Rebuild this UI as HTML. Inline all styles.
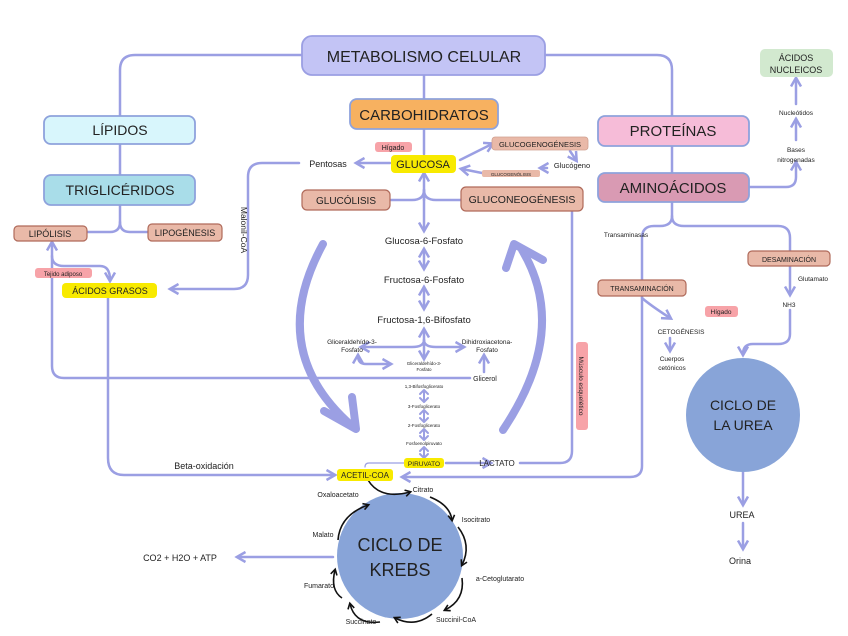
<!DOCTYPE html>
<html><head><meta charset="utf-8"><style>
html,body{margin:0;padding:0;background:#fff}
svg{display:block}
text{font-family:"Liberation Sans",sans-serif;fill:#222}
</style></head><body>
<svg width="848" height="636" viewBox="0 0 848 636" xmlns="http://www.w3.org/2000/svg">
<defs>
<marker id="a" viewBox="0 0 10 10" refX="7" refY="5" markerWidth="5" markerHeight="5" orient="auto-start-reverse"><path d="M1 1 L8 5 L1 9" fill="none" stroke="#9b9fe3" stroke-width="2"/></marker>
<marker id="k" viewBox="0 0 10 10" refX="7" refY="5" markerWidth="5" markerHeight="5" orient="auto"><path d="M1 1 L8 5 L1 9" fill="none" stroke="#111" stroke-width="2"/></marker>
</defs>
<g fill="none" stroke="#9b9fe3" stroke-width="2.5" stroke-linecap="round">
<path d="M302 55 H135 Q120 55 120 70 V116"/>
<path d="M545 55 H657 Q672 55 672 70 V116"/>
<path d="M424 75 V99"/>
<path d="M120 144 V175"/>
<path d="M672 146 V173"/>
<path d="M120 205 V222 Q120 232 110 232 H88"/>
<path d="M120 222 Q120 232 130 232 H148"/>
<path d="M424 129 V154"/>
<path d="M424 200 V174" marker-end="url(#a)"/>
<path d="M424 190 V230" marker-end="url(#a)"/>
<path d="M390 200 H412 Q424 200 424 190"/>
<path d="M461 200 H436 Q424 200 424 190"/>
<path d="M390 163 H357" marker-end="url(#a)"/>
<path d="M299 163 H262 Q248 163 248 177 V275 Q248 289 234 289 H171" marker-end="url(#a)"/>
<path d="M460 160 L492 144" marker-end="url(#a)"/>
<path d="M570 151 L576 160" marker-end="url(#a)"/>
<path d="M547 168 H541" marker-end="url(#a)"/>
<path d="M482 173 L462 169" marker-end="url(#a)"/>
<path d="M572 212 V451 Q572 463 560 463 H520"/>
<path d="M424 250 V268" marker-start="url(#a)" marker-end="url(#a)"/>
<path d="M424 288 V308" marker-start="url(#a)" marker-end="url(#a)"/>
<path d="M424 330 V358" marker-start="url(#a)" marker-end="url(#a)"/>
<path d="M424 340 Q424 347 412 347 H362" marker-end="url(#a)"/>
<path d="M424 340 Q424 347 436 347 H463" marker-end="url(#a)"/>
<path d="M358 356 Q358 364 366 364 H390" marker-start="url(#a)" marker-end="url(#a)"/>
<path d="M484 372 V356" marker-end="url(#a)"/>
<path d="M470 378 H64 Q52 378 52 366 V243" marker-end="url(#a)"/>
<path d="M52 256 Q52 266 64 266 H100 Q110 266 110 280" marker-end="url(#a)"/>
<path d="M424 391 V401" stroke-width="2"/>
<path d="M424 411 V421" stroke-width="2"/>
<path d="M424 430 V439" stroke-width="2"/>
<path d="M424 448 V456" stroke-width="2"/>
<path d="M446 463 H490" marker-end="url(#a)"/>
<path d="M404 463 H369 Q365 463 365 467" stroke-width="1.2"/>
<path d="M108 298 V458 Q108 475 124 475 H334" marker-end="url(#a)"/>
<path d="M672 201 V216 Q672 226 684 226 H778 Q790 226 790 238 V250"/>
<path d="M672 216 Q672 226 660 226 H654 Q642 226 642 238 V466 Q642 477 630 477 H403" marker-end="url(#a)"/>
<path d="M749 187 H786 Q796 187 796 177 V163" marker-end="url(#a)"/>
<path d="M796 140 V120" marker-end="url(#a)"/>
<path d="M796 104 V79" marker-end="url(#a)"/>
<path d="M790 266 V294" marker-end="url(#a)"/>
<path d="M790 310 V334 Q790 344 778 344 H753 Q743 344 743 354" marker-end="url(#a)"/>
<path d="M642 298 Q650 305 670 318" marker-end="url(#a)"/>
<path d="M670 338 V350" marker-end="url(#a)"/>
<path d="M743 472 V504" marker-end="url(#a)"/>
<path d="M743 523 V548" marker-end="url(#a)"/>
<path d="M333 557 H238" marker-end="url(#a)"/>
</g>
<g fill="none" stroke="#9b9fe3" stroke-width="2" stroke-linecap="round" stroke-linejoin="round">
<path d="M420 394 L424 390 L428 394 M420 398 L424 402 L428 398"/>
<path d="M420 414 L424 410 L428 414 M420 418 L424 422 L428 418"/>
<path d="M420 433 L424 429 L428 433 M420 436 L424 440 L428 436"/>
<path d="M420 451 L424 447 L428 451 M420 454 L424 458 L428 454"/>
</g>
<g fill="none" stroke="#9b9fe3" stroke-width="8" stroke-linecap="round" stroke-linejoin="round">
<path d="M323 244 Q265 350 352 426"/>
<path d="M324 411 L356 429 L352 397"/>
<path d="M503 430 Q570 330 522 250"/>
<path d="M506 268 L514 244 L543 260"/>
</g>
<circle cx="743" cy="415" r="57" fill="#88a4d8"/>
<circle cx="400" cy="556" r="63" fill="#88a4d8"/>
<g fill="none" stroke="#111" stroke-width="1.6">
<path d="M368 480 Q380 500 410 492" marker-end="url(#k)"/>
<path d="M430 497 Q450 505 452 520" marker-end="url(#k)"/>
<path d="M458 527 Q472 545 462 565" marker-end="url(#k)"/>
<path d="M462 578 Q465 600 445 610" marker-end="url(#k)"/>
<path d="M432 614 Q415 628 395 618" marker-end="url(#k)"/>
<path d="M380 622 Q355 625 350 604" marker-end="url(#k)"/>
<path d="M342 598 Q330 590 335 570" marker-end="url(#k)"/>
<path d="M338 540 Q340 515 368 505" marker-end="url(#k)"/>
</g>
<g stroke-width="1.8">
<rect x="302" y="36" width="243" height="39" rx="10" fill="#c3c4f5" stroke="#9b9fe3"/>
<rect x="350" y="99" width="148" height="30" rx="7" fill="#f7b160" stroke="#8ea2dc"/>
<rect x="44" y="116" width="151" height="28" rx="7" fill="#d8f6fc" stroke="#8ea2dc"/>
<rect x="44" y="175" width="151" height="30" rx="7" fill="#a9dde9" stroke="#8ea2dc"/>
<rect x="598" y="116" width="151" height="30" rx="7" fill="#f6bcd8" stroke="#8ea2dc"/>
<rect x="598" y="173" width="151" height="29" rx="7" fill="#d99ab3" stroke="#8ea2dc"/>
<rect x="14" y="226" width="73" height="15" rx="4" fill="#e9b9a8" stroke="#b06a5a" stroke-width="1.2"/>
<rect x="148" y="224" width="74" height="17" rx="4" fill="#e9b9a8" stroke="#b06a5a" stroke-width="1.2"/>
<rect x="302" y="190" width="88" height="20" rx="5" fill="#e9b9a8" stroke="#b06a5a" stroke-width="1.2"/>
<rect x="461" y="187" width="122" height="24" rx="5" fill="#e9b9a8" stroke="#b06a5a" stroke-width="1.2"/>
<rect x="492" y="137" width="96" height="13" rx="3" fill="#e9b9a8" stroke="#d0a090" stroke-width="0.8"/>
<rect x="482" y="170" width="58" height="7" rx="2" fill="#e9b9a8" stroke="none"/>
<rect x="598" y="280" width="88" height="16" rx="4" fill="#e9b9a8" stroke="#b06a5a" stroke-width="1.2"/>
<rect x="748" y="251" width="82" height="15" rx="4" fill="#e9b9a8" stroke="#b06a5a" stroke-width="1.2"/>
</g>
<rect x="391" y="155" width="65" height="18" rx="4" fill="#f8ea00"/>
<rect x="62" y="283" width="95" height="15" rx="4" fill="#f8ea00"/>
<rect x="404" y="458" width="40" height="10" rx="3" fill="#f8ea00"/>
<rect x="337" y="469" width="56" height="12" rx="3" fill="#f8ea00"/>
<rect x="375" y="142" width="37" height="10" rx="3" fill="#f7a3a8"/>
<rect x="35" y="268" width="57" height="10" rx="3" fill="#f7a3a8"/>
<rect x="705" y="306" width="33" height="11" rx="3" fill="#f7a3a8"/>
<rect x="576" y="342" width="12" height="88" rx="3" fill="#f7a3a8"/>
<rect x="760" y="49" width="73" height="28" rx="5" fill="#d2e9cf"/>
<g text-anchor="middle">
<text x="424" y="62" font-size="16">METABOLISMO CELULAR</text>
<text x="424" y="120" font-size="15">CARBOHIDRATOS</text>
<text x="120" y="135" font-size="14">LÍPIDOS</text>
<text x="120" y="195" font-size="14">TRIGLICÉRIDOS</text>
<text x="673" y="136" font-size="15">PROTEÍNAS</text>
<text x="673" y="193" font-size="15">AMINOÁCIDOS</text>
<text x="50" y="237" font-size="9">LIPÓLISIS</text>
<text x="185" y="236" font-size="9">LIPOGÉNESIS</text>
<text x="346" y="204" font-size="10">GLUCÓLISIS</text>
<text x="522" y="203" font-size="10.5">GLUCONEOGÉNESIS</text>
<text x="540" y="147" font-size="7.5">GLUCOGENOGÉNESIS</text>
<text x="511" y="176" font-size="4.5">GLUCOGENÓLISIS</text>
<text x="572" y="168" font-size="7.5">Glucógeno</text>
<text x="423" y="168" font-size="11">GLUCOSA</text>
<text x="393" y="150" font-size="7">Hígado</text>
<text x="328" y="167" font-size="9">Pentosas</text>
<text x="110" y="294" font-size="9">ÁCIDOS GRASOS</text>
<text x="63" y="276" font-size="6">Tejido adiposo</text>
<text x="424" y="244" font-size="9.5">Glucosa-6-Fosfato</text>
<text x="424" y="283" font-size="9.5">Fructosa-6-Fosfato</text>
<text x="424" y="323" font-size="9.5">Fructosa-1,6-Bifosfato</text>
<text x="352" y="344" font-size="6.5">Gliceraldehído-3-</text>
<text x="352" y="352" font-size="6.5">Fosfato</text>
<text x="487" y="344" font-size="6.5">Dihidroxiacetona-</text>
<text x="487" y="352" font-size="6.5">Fosfato</text>
<text x="424" y="365" font-size="4.5">Gliceraldehído-3-</text>
<text x="424" y="371" font-size="4.5">Fosfato</text>
<text x="485" y="381" font-size="7">Glicerol</text>
<text x="424" y="388" font-size="4.5">1,3-Bifosfoglicerato</text>
<text x="424" y="408" font-size="4.5">3-Fosfoglicerato</text>
<text x="424" y="427" font-size="4.5">2-Fosfoglicerato</text>
<text x="424" y="445" font-size="4.5">Fosfoenolpiruvato</text>
<text x="424" y="466" font-size="6.5">PIRUVATO</text>
<text x="497" y="466" font-size="8">LACTATO</text>
<text x="365" y="478" font-size="8">ACETIL-COA</text>
<text x="204" y="469" font-size="9">Beta-oxidación</text>
<text x="796" y="61" font-size="9">ÁCIDOS</text>
<text x="796" y="73" font-size="9">NUCLEICOS</text>
<text x="796" y="115" font-size="6.5">Nucleótidos</text>
<text x="796" y="152" font-size="6.5">Bases</text>
<text x="796" y="162" font-size="6.5">nitrogenadas</text>
<text x="626" y="237" font-size="6.5">Transaminasas</text>
<text x="642" y="291" font-size="7">TRANSAMINACIÓN</text>
<text x="789" y="262" font-size="7">DESAMINACIÓN</text>
<text x="813" y="281" font-size="6.5">Glutamato</text>
<text x="789" y="307" font-size="6.5">NH3</text>
<text x="721" y="314" font-size="6.5">Hígado</text>
<text x="681" y="334" font-size="6.5">CETOGÉNESIS</text>
<text x="672" y="361" font-size="6.5">Cuerpos</text>
<text x="672" y="370" font-size="6.5">cetónicos</text>
<text x="743" y="410" font-size="14">CICLO DE</text>
<text x="743" y="430" font-size="14">LA UREA</text>
<text x="742" y="518" font-size="9">UREA</text>
<text x="740" y="564" font-size="9">Orina</text>
<text x="400" y="551" font-size="18">CICLO DE</text>
<text x="400" y="576" font-size="18">KREBS</text>
<text x="338" y="497" font-size="7">Oxaloacetato</text>
<text x="423" y="492" font-size="7">Citrato</text>
<text x="476" y="522" font-size="7">Isocitrato</text>
<text x="323" y="537" font-size="7">Malato</text>
<text x="500" y="581" font-size="7">a-Cetoglutarato</text>
<text x="319" y="588" font-size="7">Fumarato</text>
<text x="361" y="624" font-size="7">Succinato</text>
<text x="456" y="622" font-size="7">Succinil-CoA</text>
<text x="180" y="561" font-size="9">CO2 + H2O + ATP</text>
</g>
<text transform="translate(241,230) rotate(90)" text-anchor="middle" font-size="8.5">Malonil-CoA</text>
<text transform="translate(579,386) rotate(90)" text-anchor="middle" font-size="6.5">Músculo esquelético</text>
</svg>
</body></html>
